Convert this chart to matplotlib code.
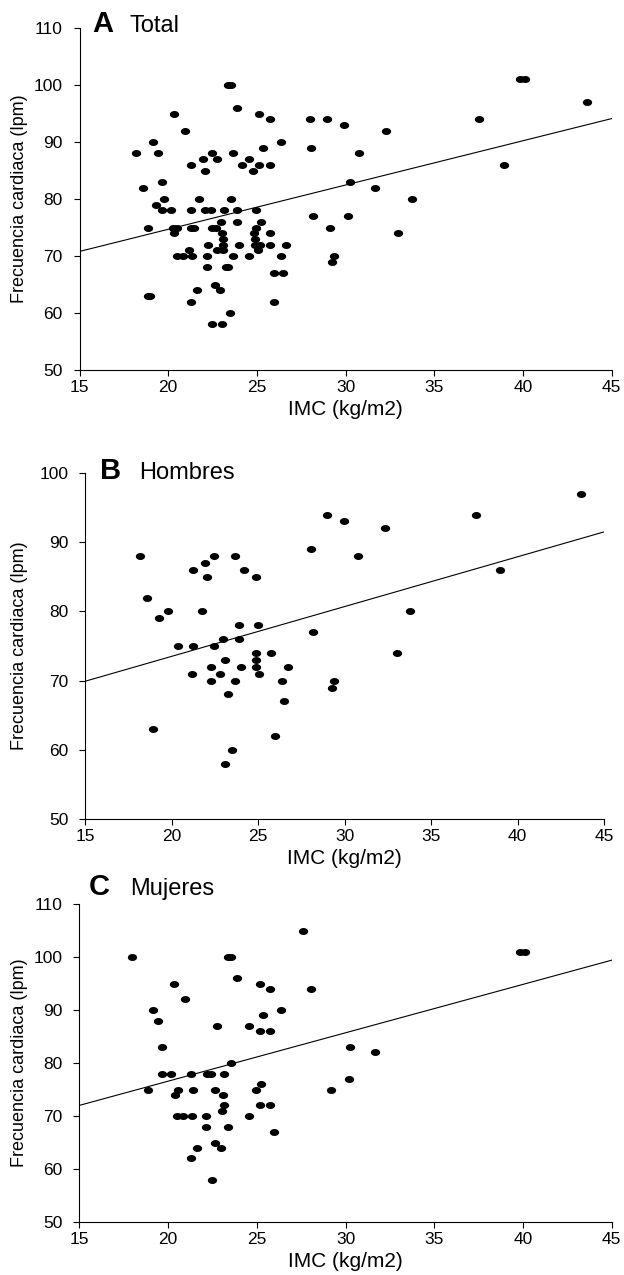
import numpy as np
import matplotlib
matplotlib.use("Agg")
import matplotlib.pyplot as plt
from matplotlib.path import Path

plt.rcParams["font.family"] = ["Liberation Sans", "DejaVu Sans"]

# ─── DATA ───────────────────────────────────────────────────────────────────

# A: Total
bmi_total = [23.4, 23.55, 23.86, 20.35, 25.15, 25.75, 28.0, 28.94, 37.54, 29.93,
             20.95, 32.3, 19.17, 26.35, 28.06, 25.34, 18.17, 19.45, 22.45, 23.65,
             30.74, 21.96, 22.75, 24.55, 21.27, 24.14, 25.15, 25.75, 38.93, 22.05,
             24.81, 19.67, 30.25, 18.56, 31.65, 19.78, 21.75, 23.55, 33.75, 19.3,
             19.67, 20.16, 21.27, 22.1, 22.4, 23.14, 23.86, 24.96, 28.17, 30.16,
             22.99, 23.86, 25.24, 18.85, 20.3, 20.5, 21.27, 21.45, 22.45, 22.7,
             24.96, 29.15, 20.35, 23.05, 24.83, 25.75, 32.95, 23.1, 24.87, 22.24,
             23.12, 23.99, 24.9, 25.19, 25.75, 26.65, 21.15, 22.75, 23.09, 25.06,
             20.52, 20.85, 21.36, 22.2, 23.65, 24.55, 26.35, 29.35, 29.25, 22.17,
             23.24, 23.35, 25.94, 26.46, 22.65, 21.62, 22.95, 18.85, 19.0, 21.27,
             25.96, 23.48, 22.45, 23.05, 39.82, 40.1, 43.6]
hr_total = [100, 100, 96, 95, 95, 94, 94, 94, 94, 93,
            92, 92, 90, 90, 89, 89, 88, 88, 88, 88,
            88, 87, 87, 87, 86, 86, 86, 86, 86, 85,
            85, 83, 83, 82, 82, 80, 80, 80, 80, 79,
            78, 78, 78, 78, 78, 78, 78, 78, 77, 77,
            76, 76, 76, 75, 75, 75, 75, 75, 75, 75,
            75, 75, 74, 74, 74, 74, 74, 73, 73, 72,
            72, 72, 72, 72, 72, 72, 71, 71, 71, 71,
            70, 70, 70, 70, 70, 70, 70, 70, 69, 68,
            68, 68, 67, 67, 65, 64, 64, 63, 63, 62,
            62, 60, 58, 58, 101, 101, 97]

# B: Hombres
bmi_men = [18.18, 18.56, 19.3, 19.78, 18.95, 20.36, 21.26, 21.76, 21.26, 21.96,
           22.05, 22.48, 23.69, 24.17, 24.85, 21.18, 22.26, 22.28, 22.78, 23.07,
           22.98, 22.44, 23.9, 24.98, 23.88, 24.02, 23.29, 23.67, 24.87, 24.87,
           24.87, 25.08, 25.75, 26.7, 26.37, 26.48, 25.98, 23.5, 23.07, 28.08,
           28.97, 28.18, 29.37, 29.28, 29.97, 32.34, 30.78, 33.77, 33.0, 37.56,
           38.99, 43.67]
hr_men = [88, 82, 79, 80, 63, 75, 75, 80, 86, 87,
          85, 88, 88, 86, 85, 71, 72, 70, 71, 73,
          76, 75, 78, 78, 76, 72, 68, 70, 74, 73,
          72, 71, 74, 72, 70, 67, 62, 60, 58, 89,
          94, 77, 70, 69, 93, 92, 88, 80, 74, 94,
          86, 97]

# C: Mujeres
bmi_women = [17.97, 27.6, 23.4, 23.55, 23.87, 20.36, 25.17, 25.77, 28.05, 20.96,
             19.17, 26.37, 25.36, 19.45, 22.78, 24.57, 25.17, 25.77, 19.68, 23.57,
             19.68, 20.17, 21.28, 22.18, 22.4, 23.16, 18.87, 20.55, 21.43, 22.67,
             20.38, 23.08, 25.26, 24.98, 23.18, 23.06, 25.2, 25.77, 20.53, 20.86,
             21.37, 22.16, 24.57, 22.16, 23.38, 25.96, 22.67, 22.97, 21.64, 21.28,
             22.46, 29.17, 30.28, 31.67, 30.19, 39.82, 40.1]
hr_women = [100, 105, 100, 100, 96, 95, 95, 94, 94, 92,
            90, 90, 89, 88, 87, 87, 86, 86, 83, 80,
            78, 78, 78, 78, 78, 78, 75, 75, 75, 75,
            74, 74, 76, 75, 72, 71, 72, 72, 70, 70,
            70, 70, 70, 68, 68, 67, 65, 64, 64, 62,
            58, 75, 83, 82, 77, 101, 101]

# trend line end values (x = 15 and x = 45)
fit_x = [15, 45]
fit_total = [70.8, 94.1]
fit_men = [69.9, 91.5]
fit_women = [72.0, 99.4]

panels = [
    ("A", "Total", bmi_total, hr_total, fit_total, (50, 110)),
    ("B", "Hombres", bmi_men, hr_men, fit_men, (50, 100)),
    ("C", "Mujeres", bmi_women, hr_women, fit_women, (50, 110)),
]

W, H = 624, 1275

# axes boxes in pixels: left, right, top, bottom
boxes = [(79.5, 611.5, 28, 370), (85, 604.3, 473, 819), (79.3, 611.7, 904, 1222)]
# panel heading: letter x, word x, baseline y (pixels)
heads = [(92, 130, 32), (100, 139, 479), (89, 130, 895)]

# slightly flattened dot
t = np.linspace(0, 2 * np.pi, 40)
dot = Path(np.column_stack([np.cos(t), 0.75 * np.sin(t)]), closed=True)

fig = plt.figure(figsize=(W / 100, H / 100), dpi=100)

for (letter, name, xs, ys, fit, ylim), (l, r, tp, b), (lx, nx, by) in zip(panels, boxes, heads):
    ax = fig.add_axes([l / W, 1 - b / H, (r - l) / W, (b - tp) / H])
    ax.plot(xs, ys, linestyle="none", marker=dot, markersize=6.7,
            color="black", markeredgewidth=0)
    ax.plot(fit_x, fit, color="black", linewidth=0.8)
    ax.set_xlim(15, 45)
    ax.set_ylim(*ylim)
    ax.set_xticks(np.arange(15, 46, 5))
    ax.set_yticks(np.arange(ylim[0], ylim[1] + 1, 10))
    for side in ("top", "right"):
        ax.spines[side].set_visible(False)
    for side in ("left", "bottom"):
        ax.spines[side].set_linewidth(0.8)
    ax.tick_params(direction="out", length=4, width=0.8, labelsize=12.5)
    ax.tick_params(axis="y", pad=8)
    ax.tick_params(axis="x", pad=3)
    ax.set_xlabel("IMC (kg/m2)", fontsize=15, labelpad=4)
    ax.set_ylabel("Frecuencia cardiaca (lpm)", fontsize=13)
    ax.yaxis.set_label_coords((28 - l) / (r - l), 0.5)
    fig.text(lx / W, 1 - by / H, letter, fontsize=21, fontweight="bold",
             va="baseline", ha="left")
    fig.text(nx / W, 1 - by / H, name, fontsize=17, va="baseline", ha="left")

fig.savefig("out.png", dpi=100)
